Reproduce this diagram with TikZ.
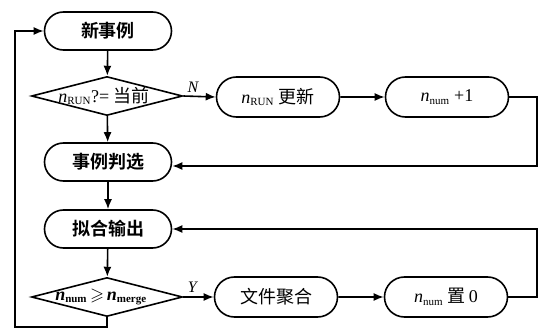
\documentclass[tikz,border=0pt]{standalone}
\usepackage{amssymb}
\usepackage{fontspec}
\setmainfont{Liberation Serif}
\newfontfamily\cjk{Noto Sans CJK SC}[BoldFont={* Bold}]
\newcommand{\sbs}[1]{\textsubscript{\fontsize{11}{11}\selectfont #1}}
\usetikzlibrary{shapes.geometric,shapes.misc,arrows.meta}
\begin{document}
\begin{tikzpicture}[x=1pt,y=-1pt,
  every node/.style={font=\fontsize{18}{19}\selectfont},
  term/.style={draw,line width=1.6pt,rounded rectangle,minimum width=127pt,minimum height=38pt,inner sep=0pt},
  rterm/.style={draw,line width=1.6pt,rounded rectangle,minimum width=123pt,minimum height=40pt,inner sep=0pt},
  decision/.style={draw,line width=1.6pt,diamond,shape aspect=3.9,minimum width=151pt,minimum height=39pt,inner sep=0pt},
  conn/.style={line width=1.6pt,-{Latex[length=10pt,width=8pt]}},
  lbl/.style={font=\fontsize{16}{16}\selectfont\itshape}
]
\useasboundingbox (0,0) rectangle (539,329);
\node[term] (n1) at (108,31) {\cjk\bfseries 新事例};
\node[decision] (d1) at (107,96) {};
\node (t1) at (104,96) {\textit{n}\sbs{RUN}?= {\cjk 当前}};
\node[term] (n2) at (108,162) {\cjk\bfseries 事例判选};
\node[term] (n3) at (108,229) {\cjk\bfseries 拟合输出};
\node[decision] (d2) at (107,297) {};
\node (t2) at (101,297) {\textbf{\textit{n}}\sbs{\bfseries num}$\,\geqslant\,$\textbf{\textit{n}}\sbs{\bfseries merge}};
\node[rterm] (r1) at (278,97) {\textit{n}\sbs{RUN} {\cjk 更新}};
\node[rterm] (r2) at (447,97) {\textit{n}\sbs{num} +1};
\node[rterm] (r3) at (276,297) {\cjk 文件聚合};
\node[rterm] (r4) at (446,297) {\textit{n}\sbs{num} {\cjk 置}\,0};
\coordinate (c1) at (537,97);
\coordinate (c2) at (537,166);
\coordinate (c3) at (537,297);
\coordinate (c4) at (537,229);
\coordinate (c5) at (107,327);
\coordinate (c6) at (15,327);
\coordinate (c7) at (15,31);
\draw[conn] (n1) -- (d1);
\draw[conn] (d1) -- (n2);
\draw[conn] (d1.east) -- node[lbl,above,pos=0.3] (lN) {N} (r1.west);
\draw[conn] (r1) -- (r2);
\draw[conn] (r2.east) -- (c1) -- (c2) -- (c2 -| n2.east);
\draw[conn] (n2) -- (n3);
\draw[conn] (n3) -- (d2);
\draw[conn] (d2.east) -- node[lbl,above,pos=0.3] (lY) {Y} (r3.west);
\draw[conn] (r3) -- (r4);
\draw[conn] (r4.east) -- (c3) -- (c4) -- (n3.east);
\draw[conn] (d2.south) -- (c5) -- (c6) -- (c7) -- (n1.west);
\end{tikzpicture}
\end{document}
